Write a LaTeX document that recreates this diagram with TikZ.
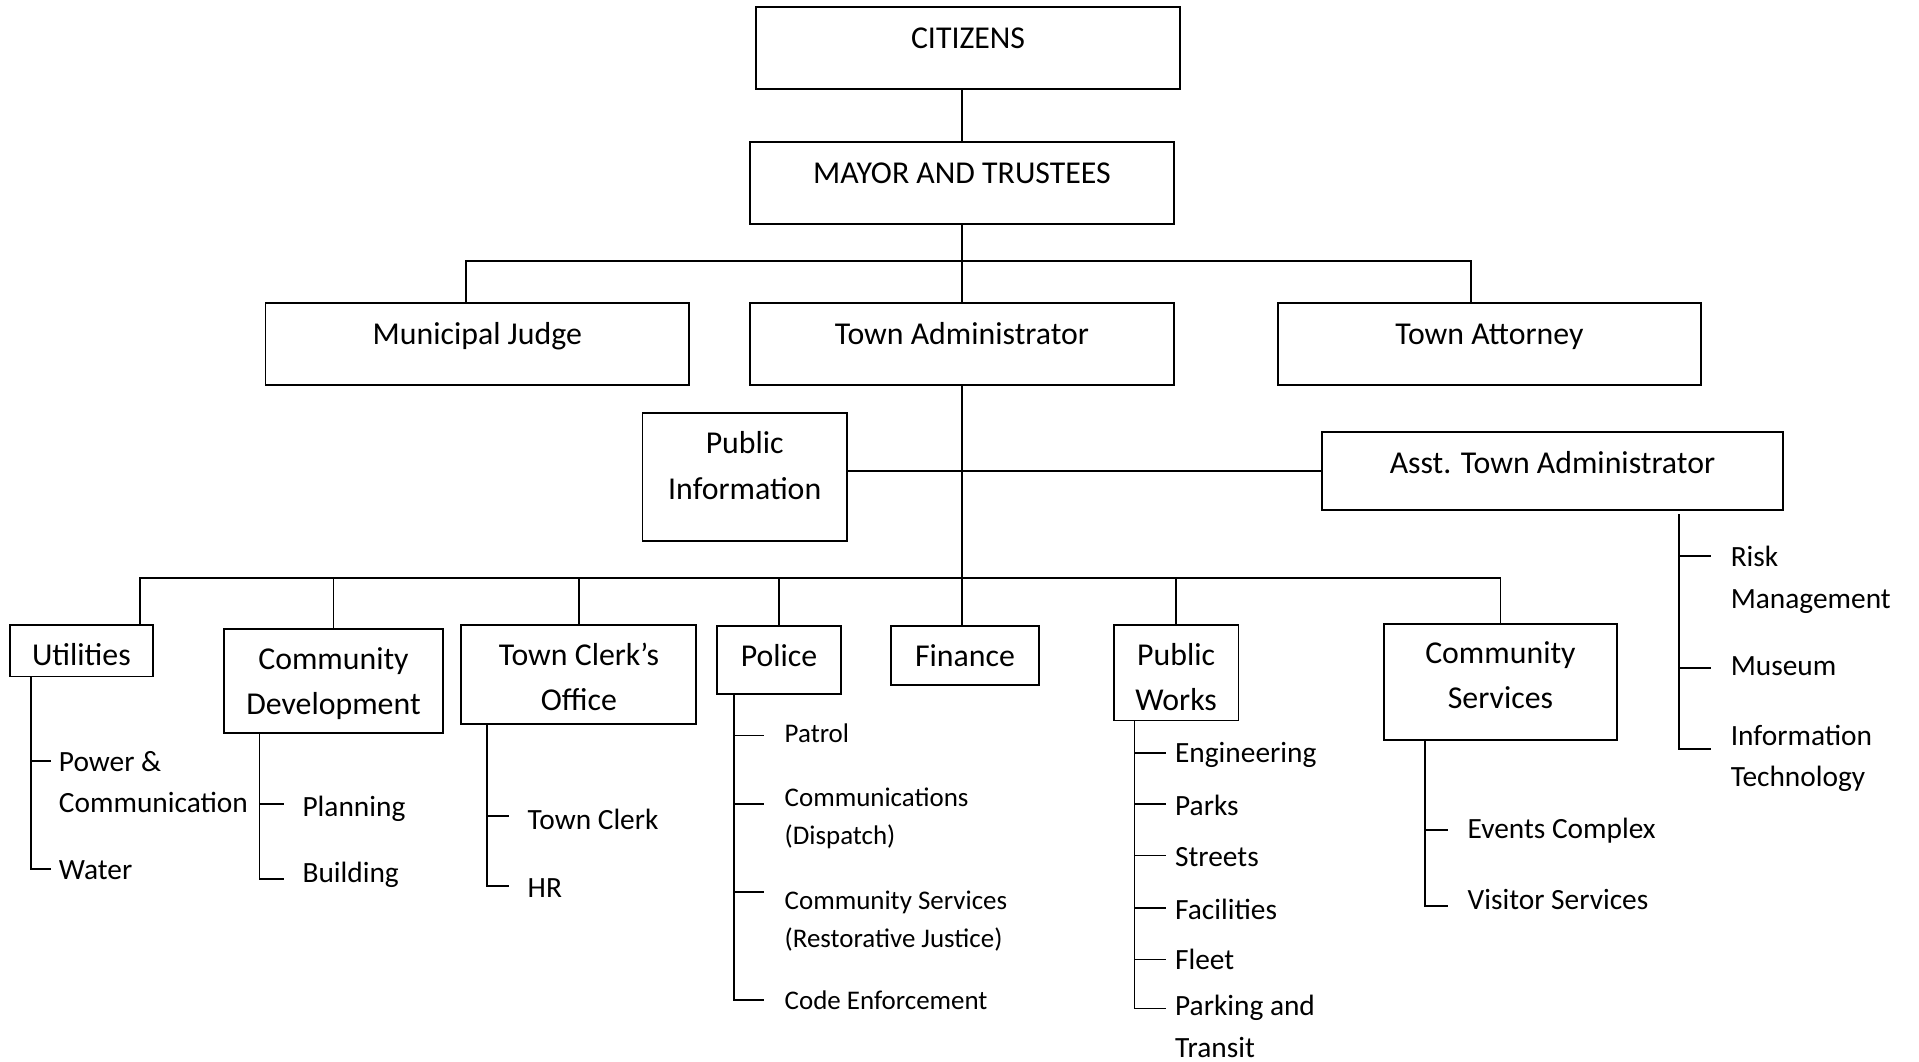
\documentclass[tikz,border=0pt]{standalone}
\usepackage{fontspec}
\setmainfont{Carlito}

\begin{document}
\begin{tikzpicture}[x=1pt, y=-1pt,
  unit/.style={draw, line width=1.5pt, inner sep=0pt, anchor=north, align=center, font=\fontsize{26}{37}\selectfont},
  head/.style={unit, minimum width=346pt, text height=34pt, text depth=33pt},
  task/.style={anchor=base west, inner sep=0pt, align=left, font=\fontsize{24}{34}\selectfont},
  small/.style={task, font=\fontsize{22}{31}\selectfont},
  link/.style={line width=1.5pt}]
\useasboundingbox (0,0) rectangle (1568,867);
%Boxes
\node[head] (cit) at (791,5) {CITIZENS};
\node[head] (mayor) at (786,115) {MAYOR AND TRUSTEES};
\node[head] (judge) at (390,247) {Municipal Judge};
\node[head] (admin) at (786,247) {Town Administrator};
\node[head] (atty) at (1217,247) {Town Attorney};
\node[unit, minimum width=167pt, text height=70pt, text depth=34pt] (pinfo) at (608.5,337) {Public\\Information};
\node[head, minimum width=377pt, text depth=30pt] (asst) at (1268.5,352) {Asst. Town Administrator};
\node[unit, minimum width=117pt, text height=33pt, text depth=9pt] (util) at (66.5,510) {Utilities};
\node[unit, minimum width=179pt, text height=70pt, text depth=15pt] (cdev) at (272.5,513) {Community\\Development};
\node[unit, minimum width=192pt, text height=70pt, text depth=11pt] (clerk) at (473,510) {Town Clerk’s\\Office};
\node[unit, minimum width=101pt, text height=33pt, text depth=22pt] (police) at (636.5,511) {Police};
\node[unit, minimum width=121pt, text height=33pt, text depth=15pt] (fin) at (788.5,511) {Finance};
\node[unit, minimum width=102pt, text height=70pt, text depth=8pt] (pworks) at (961,510) {Public\\Works};
\node[unit, minimum width=190pt, text height=69pt, text depth=26pt] (cserv) at (1226,509) {Community\\Services};
%Lines
\coordinate (top) at (787,213);
\coordinate (low) at (787,472);
\draw[link] (mayor.north) -- (mayor.north |- cit.south);
\draw[link] (mayor.south) -- (admin.north);
\draw[link] ([xshift=-9pt]judge.north) |- (top) -| ([xshift=-15pt]atty.north);
\draw[link] (admin.south) -- (admin.south |- fin.north);
\draw[link] (pinfo.east |- asst.west) -- (asst.west);
\draw[link] ([xshift=48pt]util.north) |- (low) -| (cserv.north);
\foreach \d in {cdev, clerk, police, pworks}
  \draw[link] (\d.north) -- (\d.north |- low);
%Utilities
\coordinate (util-sp) at (util.south -| 25,0);
\foreach \ty/\by/\n/\t in {622/664/power/{Power \&\\Communication}, 710/719/water/Water}{
  \node[task] (\n) at (48,\by) {\t};
  \coordinate (\n-t) at (42,\ty);
  \draw[link] (\n-t -| util-sp) -- (\n-t);
}
\draw[link] (util-sp) |- (water-t);
%Community Development
\coordinate (cdev-sp) at (cdev.south -| 212,0);
\foreach \ty/\by/\n/\t in {657/667/plan/Planning, 718/721/build/Building}{
  \node[task] (\n) at (247,\by) {\t};
  \coordinate (\n-t) at (232,\ty);
  \draw[link] (\n-t -| cdev-sp) -- (\n-t);
}
\draw[link] (cdev-sp) |- (build-t);
%Town Clerk
\coordinate (clerk-sp) at (clerk.south -| 398,0);
\foreach \ty/\by/\n/\t in {667/678/tclerk/Town Clerk, 724/733/hr/HR}{
  \node[task] (\n) at (431,\by) {\t};
  \coordinate (\n-t) at (416,\ty);
  \draw[link] (\n-t -| clerk-sp) -- (\n-t);
}
\draw[link] (clerk-sp) |- (hr-t);
%Police
\coordinate (police-sp) at (police.south -| 600,0);
\foreach \ty/\by/\n/\t in {601/607/patrol/Patrol, 657/690/comms/{Communications\\(Dispatch)},
    729/774/commserv/{Community Services\\(Restorative Justice)}, 817/825/code/Code Enforcement}{
  \node[small] (\n) at (641,\by) {\t};
  \coordinate (\n-t) at (624,\ty);
  \draw[link] (\n-t -| police-sp) -- (\n-t);
}
\draw[link] (police-sp) |- (code-t);
%Public Works
\coordinate (pworks-sp) at (pworks.south -| 927,0);
\foreach \ty/\by/\n/\t in {615/623/eng/Engineering, 657/666/parks/Parks, 699/708/streets/Streets,
    742/751/facil/Facilities, 784/792/fleet/Fleet, 824/864/parking/{Parking and\\Transit}}{
  \node[task] (\n) at (960,\by) {\t};
  \coordinate (\n-t) at (953,\ty);
  \draw[link] (\n-t -| pworks-sp) -- (\n-t);
}
\draw[link] (pworks-sp) |- (parking-t);
%Community Services
\coordinate (cserv-sp) at (cserv.south -| 1164,0);
\foreach \ty/\by/\n/\t in {678/685/events/Events Complex, 740/743/visitor/Visitor Services}{
  \node[task] (\n) at (1199,\by) {\t};
  \coordinate (\n-t) at (1183,\ty);
  \draw[link] (\n-t -| cserv-sp) -- (\n-t);
}
\draw[link] (cserv-sp) |- (visitor-t);
%Asst. Town Administrator
\coordinate (asst-sp) at (1372,420);
\foreach \ty/\by/\n/\t in {454/497/risk/{Risk\\Management}, 546/552/museum/Museum, 612/643/it/{Information\\Technology}}{
  \node[task] (\n) at (1414,\by) {\t};
  \coordinate (\n-t) at (1398,\ty);
  \draw[link] (\n-t -| asst-sp) -- (\n-t);
}
\draw[link] (asst-sp) |- (it-t);
\end{tikzpicture}
\end{document}
